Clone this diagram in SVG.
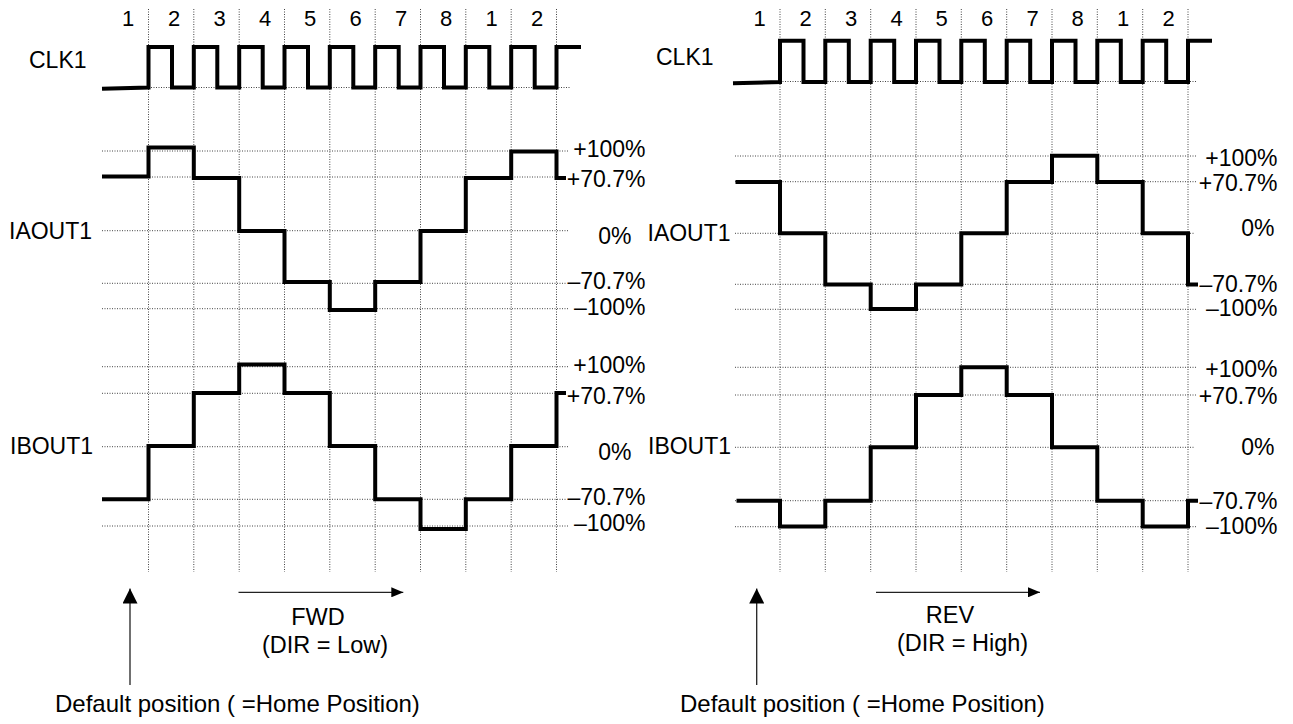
<svg xmlns="http://www.w3.org/2000/svg" width="1293" height="724" viewBox="0 0 1293 724">
<style>
.bg{fill:#fff}
.grid{stroke:#444;stroke-width:1;stroke-dasharray:1 1.5;fill:none}
.wave{stroke:#000;stroke-width:4;fill:none;stroke-linejoin:miter;stroke-linecap:butt}
.arr{stroke:#222;stroke-width:1.3;fill:none}
text{font-family:"Liberation Sans",Arial,sans-serif;font-size:23px;fill:#000}
.num{font-size:22px;text-anchor:middle}
.pct{text-anchor:end}
.mid{text-anchor:middle;font-size:23.5px}
.home{font-size:24px}
</style>
<defs>
<marker id="headBig" viewBox="0 0 15 15" refX="15" refY="7.5" markerWidth="15" markerHeight="15" markerUnits="userSpaceOnUse" orient="auto">
<path d="M0,0 L15,7.5 L0,15 Z" fill="#000"/>
</marker>
<marker id="headR" viewBox="0 0 12 10" refX="12" refY="5" markerWidth="12" markerHeight="10" markerUnits="userSpaceOnUse" orient="auto">
<path d="M0,0 L12,5 L0,10 Z" fill="#000"/>
</marker>
</defs>
<rect class="bg" x="0" y="0" width="1293" height="724"/>

<g id="grid-left" class="grid">
<path d="M148.5,9V572 M193.8,9V572 M239.2,9V572 M284.5,9V572 M329.8,9V572 M375.2,9V572 M420.5,9V572 M465.8,9V572 M511.2,9V572 M556.5,9V572"/>
<path d="M148.5,87.5H570 M102,151H568 M102,177H566 M102,230.7H568 M102,283.3H566 M102,308.7H568 M102,366.7H568 M102,393.3H566 M102,446.7H568 M102,499.3H566 M102,526H568"/>
</g>
<g id="grid-right" class="grid">
<path d="M780,9V572 M825.3,9V572 M870.7,9V572 M916,9V572 M961.3,9V572 M1006.7,9V572 M1052,9V572 M1097.3,9V572 M1142.7,9V572 M1188,9V572"/>
<path d="M780,81.5H1196 M735,156H1196 M735,181.7H1196 M735,233.3H1194 M735,284.3H1196 M735,309.3H1196 M735,367.3H1196 M735,395H1196 M735,447.3H1194 M735,500.7H1196 M735,526.7H1196"/>
</g>

<g id="steps-left">
<text class="num" x="128" y="26">1</text>
<text class="num" x="174" y="26">2</text>
<text class="num" x="219.5" y="26">3</text>
<text class="num" x="265" y="26">4</text>
<text class="num" x="310" y="26">5</text>
<text class="num" x="355.5" y="26">6</text>
<text class="num" x="401" y="26">7</text>
<text class="num" x="446" y="26">8</text>
<text class="num" x="491.5" y="26">1</text>
<text class="num" x="537" y="26">2</text>
</g>
<g id="steps-right">
<text class="num" x="759.5" y="26">1</text>
<text class="num" x="805.5" y="26">2</text>
<text class="num" x="851" y="26">3</text>
<text class="num" x="896.5" y="26">4</text>
<text class="num" x="941.5" y="26">5</text>
<text class="num" x="987" y="26">6</text>
<text class="num" x="1032.5" y="26">7</text>
<text class="num" x="1077.5" y="26">8</text>
<text class="num" x="1123" y="26">1</text>
<text class="num" x="1168.5" y="26">2</text>
</g>

<g id="clk1-left">
<text x="29" y="68">CLK1</text>
<path class="wave" d="M102,88.8 L148.5,87.5 V47 H172 V87.5 H193.8 V47 H217.3 V87.5 H239.2 V47 H262.7 V87.5 H284.5 V47 H308 V87.5 H329.8 V47 H353.3 V87.5 H375.2 V47 H398.7 V87.5 H420.5 V47 H444 V87.5 H465.8 V47 H489.3 V87.5 H511.2 V47 H534.7 V87.5 H556.5 V47 H581"/>
</g>
<g id="iaout1-left">
<text x="9" y="239">IAOUT1</text>
<path class="wave" d="M102,176.5 H148.5 V147.5 H193.8 V178 H239.2 V231 H284.5 V282 H329.8 V310 H375.2 V282 H420.5 V231 H465.8 V178 H511.2 V151.5 H556.5 V178 H566"/>
<text class="pct" x="645.5" y="157">+100%</text>
<text class="pct" x="645.5" y="187">+70.7%</text>
<text class="pct" x="631.5" y="243.5">0%</text>
<text class="pct" x="645.5" y="288.5">–70.7%</text>
<text class="pct" x="645.5" y="315">–100%</text>
</g>
<g id="ibout1-left">
<text x="10" y="454">IBOUT1</text>
<path class="wave" d="M102,499.3 H148.5 V446 H193.8 V393 H239.2 V364.5 H284.5 V393 H329.8 V446 H375.2 V499.3 H420.5 V529 H465.8 V499.3 H511.2 V446 H556.5 V393 H566"/>
<text class="pct" x="645.5" y="373">+100%</text>
<text class="pct" x="645.5" y="404">+70.7%</text>
<text class="pct" x="631.5" y="459.5">0%</text>
<text class="pct" x="645.5" y="505">–70.7%</text>
<text class="pct" x="645.5" y="531">–100%</text>
</g>

<g id="clk1-right">
<text x="656" y="65">CLK1</text>
<path class="wave" d="M733,83.2 L780,82 V40.7 H803.5 V82 H825.3 V40.7 H848.8 V82 H870.7 V40.7 H894.2 V82 H916 V40.7 H939.5 V82 H961.3 V40.7 H984.8 V82 H1006.7 V40.7 H1030.2 V82 H1052 V40.7 H1075.5 V82 H1097.3 V40.7 H1120.8 V82 H1142.7 V40.7 H1166.2 V82 H1188 V40.7 H1212"/>
</g>
<g id="iaout1-right">
<text x="647.5" y="241">IAOUT1</text>
<path class="wave" d="M735.5,182 H780 V233.3 H825.3 V284.5 H870.7 V309 H916 V284.5 H961.3 V233.3 H1006.7 V182 H1052 V155.7 H1097.3 V182 H1142.7 V233.3 H1188 V284.5 H1198"/>
<text class="pct" x="1277.5" y="165.5">+100%</text>
<text class="pct" x="1277.5" y="191">+70.7%</text>
<text class="pct" x="1274.5" y="236">0%</text>
<text class="pct" x="1277.5" y="291.5">–70.7%</text>
<text class="pct" x="1277.5" y="315.5">–100%</text>
</g>
<g id="ibout1-right">
<text x="648" y="454">IBOUT1</text>
<path class="wave" d="M736.5,500.7 H780 V526.5 H825.3 V500.7 H870.7 V447.3 H916 V395 H961.3 V367.3 H1006.7 V395 H1052 V447.3 H1097.3 V500.7 H1142.7 V526.5 H1188 V500.7 H1198"/>
<text class="pct" x="1277.5" y="376.5">+100%</text>
<text class="pct" x="1277.5" y="404">+70.7%</text>
<text class="pct" x="1274.5" y="455">0%</text>
<text class="pct" x="1277.5" y="508.5">–70.7%</text>
<text class="pct" x="1277.5" y="534">–100%</text>
</g>

<g id="connectors">
<line class="arr" x1="130" y1="685" x2="130" y2="588.5" marker-end="url(#headBig)"/>
<line class="arr" x1="238.5" y1="592.3" x2="403.3" y2="592.3" marker-end="url(#headR)"/>
<line class="arr" x1="756.7" y1="685" x2="756.7" y2="588.5" marker-end="url(#headBig)"/>
<line class="arr" x1="876" y1="592.3" x2="1040" y2="592.3" marker-end="url(#headR)"/>
</g>

<g id="label-fwd">
<text class="mid" x="318" y="625">FWD</text>
<text class="mid" x="325" y="653">(DIR = Low)</text>
</g>
<g id="label-home-left">
<text class="home" x="55" y="711.5">Default position ( =Home Position)</text>
</g>
<g id="label-rev">
<text class="mid" x="950" y="623.3">REV</text>
<text class="mid" x="962.5" y="650.7">(DIR = High)</text>
</g>
<g id="label-home-right">
<text class="home" x="680" y="711.5">Default position ( =Home Position)</text>
</g>
</svg>
